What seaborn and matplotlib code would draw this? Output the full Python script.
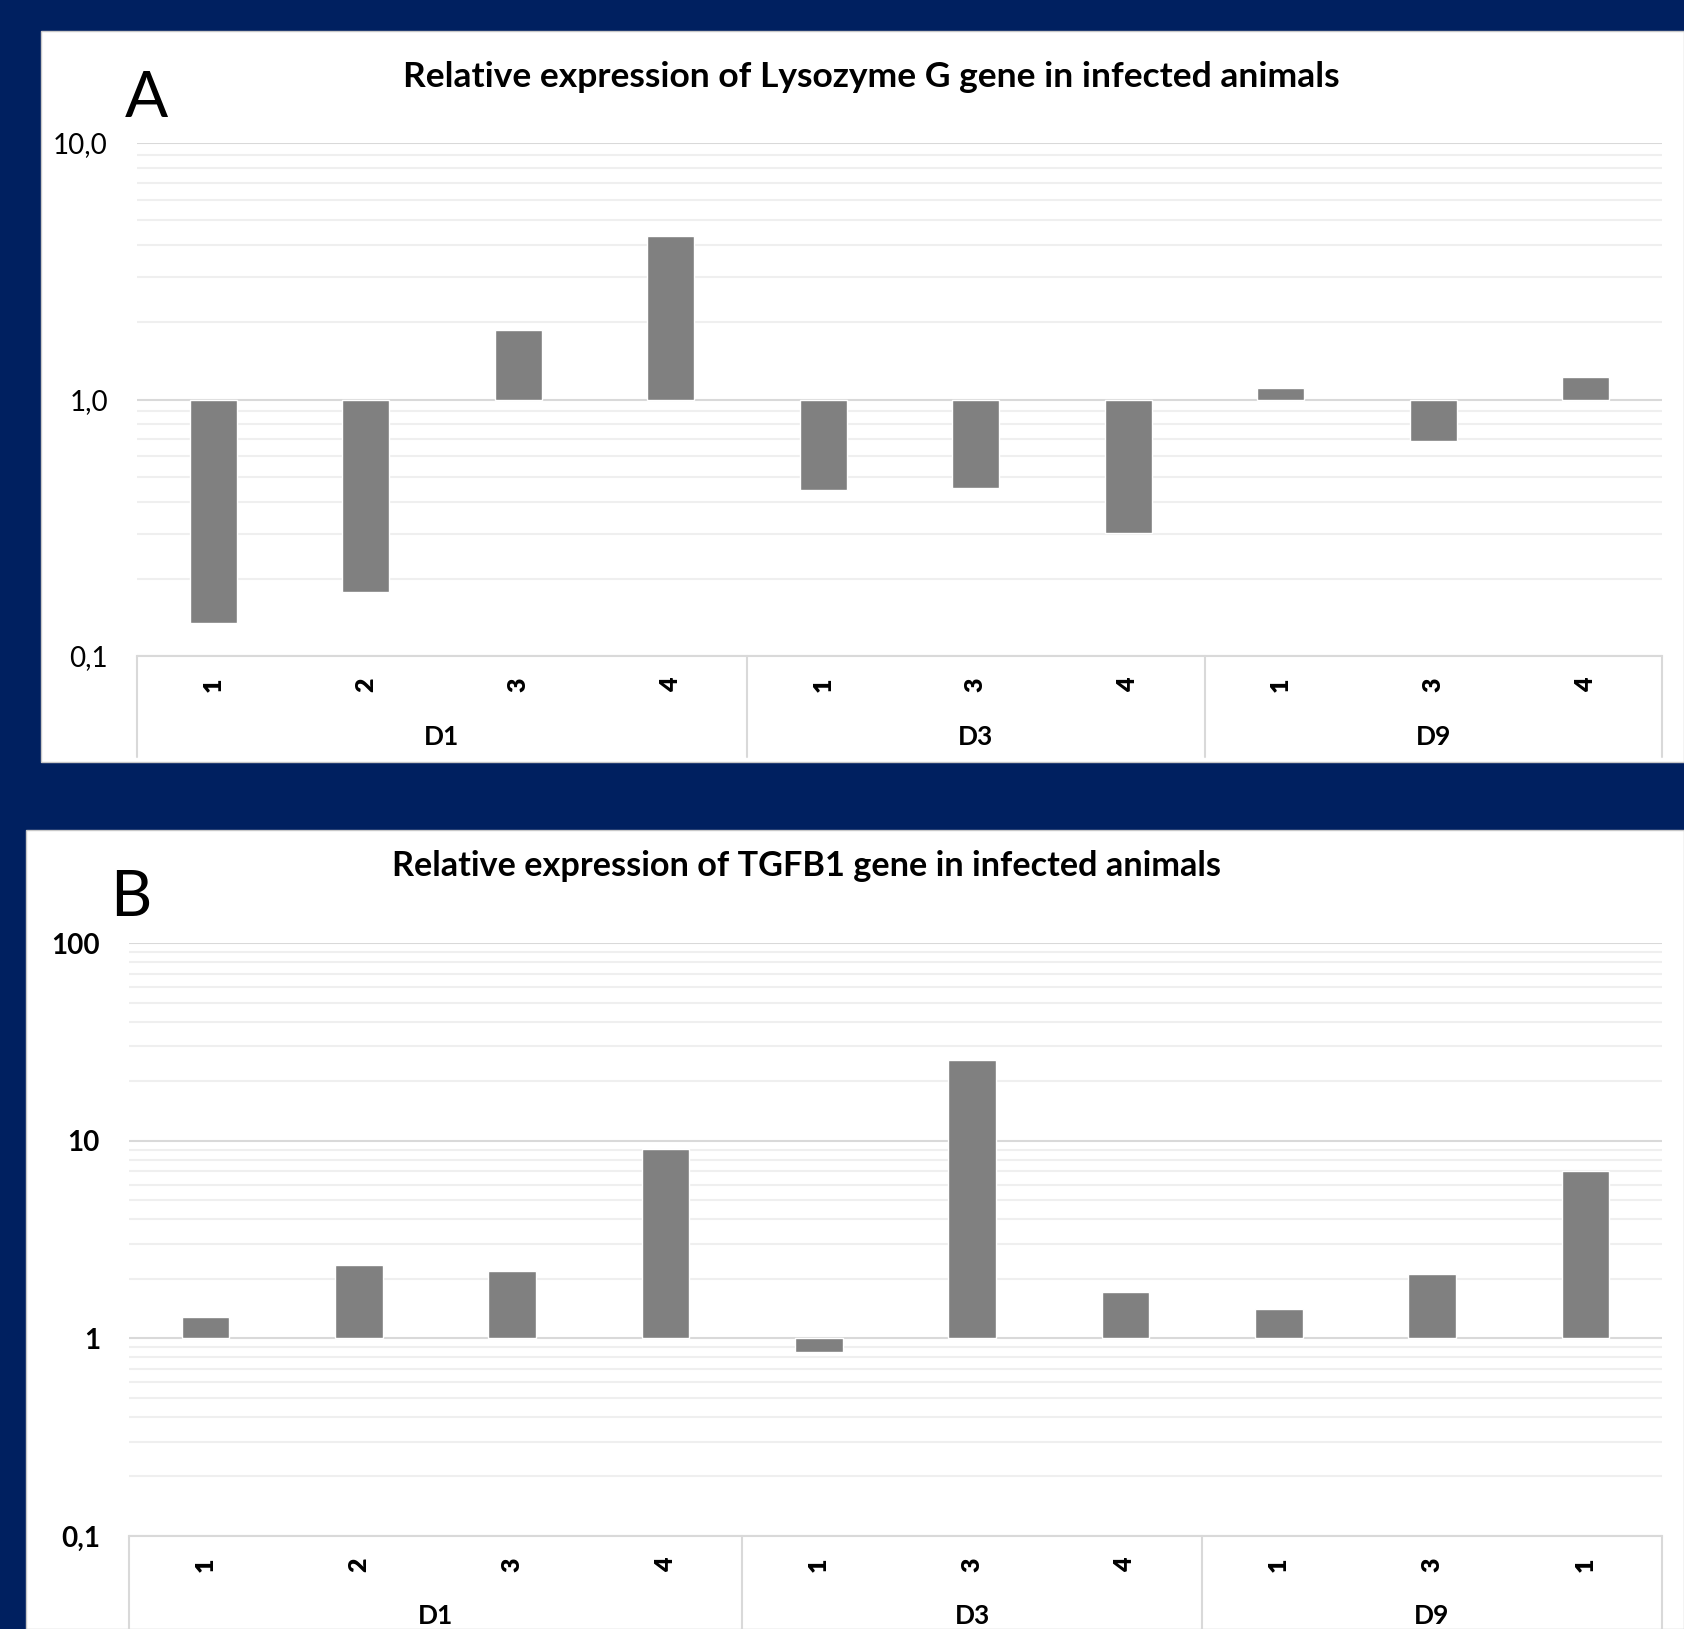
import numpy as np
import pandas as pd
import seaborn as sns
import matplotlib.pyplot as plt
from matplotlib.patches import Rectangle
from matplotlib.transforms import blended_transform_factory

# data (fold change, log axis crossing at 1)
days = ["D1", "D1", "D1", "D1", "D3", "D3", "D3", "D9", "D9", "D9"]
lyz_animals = ["1", "2", "3", "4", "1", "3", "4", "1", "3", "4"]
lyz_values = [0.135, 0.178, 1.87, 4.32, 0.445, 0.45, 0.303, 1.11, 0.687, 1.22]
tgfb_animals = ["1", "2", "3", "4", "1", "3", "4", "1", "3", "1"]
tgfb_values = [1.28, 2.34, 2.20, 9.05, 0.85, 25.6, 1.71, 1.40, 2.12, 7.04]

NAVY = "#002060"
BAR = "#808080"
GRID = "#d9d9d9"
MINOR = "#efefef"
W, H = 1684, 1629

sns.set_style("white")
plt.rcParams["font.family"] = ["Lato", "DejaVu Sans"]
plt.rcParams["text.color"] = "black"
plt.rcParams["ytick.color"] = "black"

fig = plt.figure(figsize=(W / 100, H / 100), dpi=100, facecolor=NAVY)

# white chart areas (behind the axes)
fig.patches.append(Rectangle((41 / W, 1 - 762 / H), 1 - 41 / W, 731 / H,
                             transform=fig.transFigure, facecolor="white",
                             edgecolor="#c8c8c8", lw=1, zorder=-5))
fig.patches.append(Rectangle((26 / W, 0), 1 - 26 / W, 1 - 830 / H,
                             transform=fig.transFigure, facecolor="white",
                             edgecolor="#c8c8c8", lw=1, zorder=-5))


def panel(rect, animals, values, ylo, yhi, ylabels, ybold, tick_y, group_y, box_y, pad):
    ax = fig.add_axes(rect)
    ax.patch.set_alpha(0)
    df = pd.DataFrame({"pos": np.arange(len(values)), "day": days,
                       "animal": animals, "logv": np.log10(values)})
    sns.barplot(data=df, x="pos", y="logv", color=BAR, width=0.31,
                saturation=1, ax=ax, zorder=3)
    ax.set_ylim(ylo, yhi)
    ax.set_xlim(-0.5, len(values) - 0.5)
    ax.set_yticks(np.arange(ylo, yhi + 1))
    ax.set_yticklabels(ylabels, fontsize=20, fontweight="bold" if ybold else "normal")
    minors = [np.log10(k) + d for d in range(ylo, yhi) for k in range(2, 10)]
    ax.set_yticks(minors, minor=True)
    ax.tick_params(axis="y", which="both", length=0, pad=pad)
    ax.grid(axis="y", which="major", color=GRID, lw=1.5)
    ax.grid(axis="y", which="minor", color=MINOR, lw=1.5)
    ax.set_axisbelow(True)
    for s in ["top", "right", "left"]:
        ax.spines[s].set_visible(False)
    ax.spines["bottom"].set_color(GRID)
    ax.spines["bottom"].set_linewidth(1.5)
    ax.set_xticks([])
    ax.set_xlabel("")
    ax.set_ylabel("")

    tr = blended_transform_factory(ax.transData, ax.transAxes)
    for p, a in zip(df["pos"], df["animal"]):
        ax.text(p, tick_y, a, transform=tr, rotation=90, ha="center", va="center",
                fontsize=18, fontweight="heavy")
    # group boundaries and labels
    groups = df.groupby("day", sort=False)["pos"].agg(["min", "max"])
    edges = [-0.5] + list(groups["max"] + 0.5)
    for e in edges:
        ax.plot([e, e], [0, box_y], transform=tr, color=GRID, lw=1.5, clip_on=False)
    for day, row in groups.iterrows():
        ax.text((row["min"] + row["max"]) / 2, group_y, day, transform=tr,
                ha="center", va="center", fontsize=19, fontweight="bold")
    return ax


# panel A: y axis 0.1 .. 10
panel([137 / W, 1 - 656 / H, 1525 / W, 513 / H], lyz_animals, lyz_values,
      -1, 1, ["0,1", "1,0", "10,0"], False, -0.0565, -0.158, -0.197, 21)
fig.text(871 / W, 1 - 77 / H, "Relative expression of Lysozyme G gene in infected animals",
         ha="center", va="center", fontsize=25.5, fontweight="bold")
fig.text(146 / W, 1 - 99 / H, "A", ha="center", va="center", fontsize=46)

# panel B: y axis 0.1 .. 100
panel([129 / W, 1 - 1536 / H, 1533 / W, 593 / H], tgfb_animals, tgfb_values,
      -1, 2, ["0,1", "1", "10", "100"], True, -0.049, -0.135, -0.2, 21)
fig.text(807 / W, 1 - 866 / H, "Relative expression of TGFB1 gene in infected animals",
         ha="center", va="center", fontsize=24.7, fontweight="bold")
fig.text(131 / W, 1 - 898 / H, "B", ha="center", va="center", fontsize=46)

fig.savefig("out.png", dpi=100, facecolor=NAVY)
